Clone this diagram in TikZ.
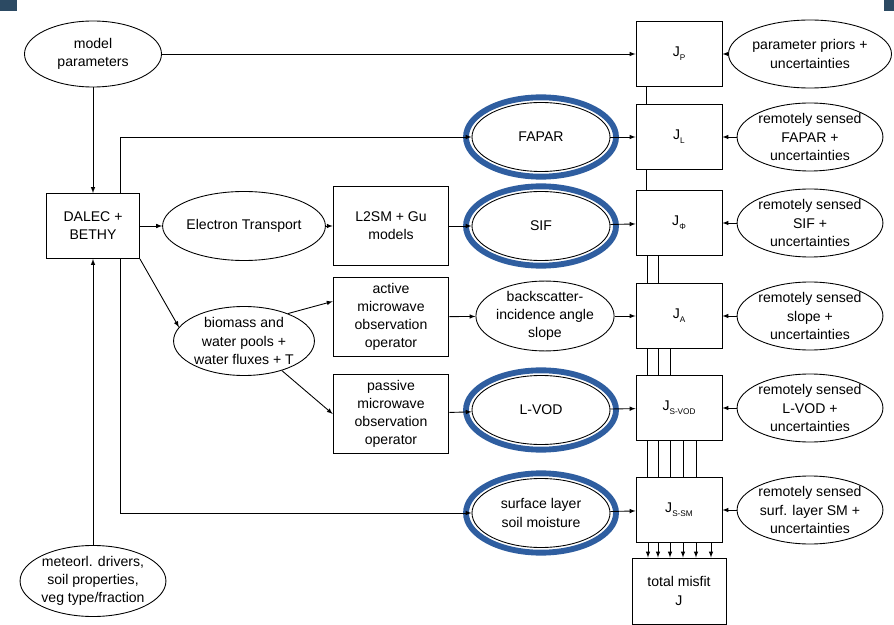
\documentclass[tikz,border=0pt]{standalone}
\usepackage{fontspec}
\setmainfont{Liberation Sans}
\usetikzlibrary{shapes.geometric}
\tikzset{>=latex}
\definecolor{ringblue}{RGB}{47,94,160}
\definecolor{slate}{RGB}{44,74,99}
\newcommand\Jsub[1]{J\raisebox{-0.5ex}{\fontsize{7}{8}\selectfont #1}}

\begin{document}
\begin{tikzpicture}[x=0.03cm,y=-0.03cm,line width=0.75pt,
    every node/.style={font=\fontsize{12}{15.5}\selectfont,align=center,inner sep=0pt},
    oval/.style={draw,ellipse,minimum width=4.11cm,minimum height=2.04cm},
    rsoval/.style={oval,minimum width=4.2cm},
    box/.style={draw,rectangle,minimum width=3.47cm,minimum height=2.36cm},
    jbox/.style={draw,rectangle,minimum width=2.58cm,minimum height=1.95cm},
    ring/.style={draw=ringblue,line width=5pt}]
            \useasboundingbox (0,0) rectangle (894,625);
            \fill[slate] (0,0) rectangle (17,11);
            \fill[slate] (884,0) rectangle (894,11);
            % left column
            \node[oval,minimum height=1.98cm] (model) at (93,54) {model\\parameters};
            \node[draw,minimum width=2.79cm,minimum height=1.95cm] (dalec) at (93,226) {DALEC +\\BETHY};
            \node[oval,minimum height=2.13cm] (met) at (93,581) {meteorl. drivers,\\soil properties,\\veg type/fraction};
            \node[oval,minimum width=4.14cm,minimum height=2.07cm] (etrans) at (244,226) {Electron Transport};
            \node[oval,minimum height=2.07cm] (bio) at (244,341) {biomass and\\water pools +\\water fluxes + T};
            % operators
            \node[box] (l2sm) at (391,226) {L2SM + Gu\\models};
            \node[box] (active) at (391,317) {active\\microwave\\observation\\operator};
            \node[box] (passive) at (391,414) {passive\\microwave\\observation\\operator};
            % observables
            \node[oval,minimum width=4.14cm,minimum height=2.07cm] (fapar) at (541,137) {FAPAR};
            \node[oval,minimum width=4.14cm,minimum height=2.07cm] (sif) at (541,226) {SIF};
            \node[oval,minimum width=4.02cm,minimum height=2.01cm] (backsc) at (545,316) {backscatter-\\incidence angle\\slope};
            \node[oval,minimum width=4.14cm,minimum height=2.07cm] (lvod) at (541,410) {L-VOD};
            \node[oval,minimum width=4.14cm,minimum height=2.07cm] (soil) at (541,513) {surface layer\\soil moisture};
            \foreach \n in {fapar,sif,lvod,soil}
                \draw[ring] (\n) ellipse (2.25cm and 1.19cm);
            % cost terms
            \node[jbox] (JP) at (679,54) {\Jsub{P}};
            \node[jbox] (JL) at (679,137) {\Jsub{L}};
            \node[jbox] (JF) at (679,223) {\Jsub{Φ}};
            \node[jbox] (JA) at (679,316) {\Jsub{A}};
            \node[jbox] (JV) at (679,408) {\Jsub{S-VOD}};
            \node[jbox] (JS) at (679,510) {\Jsub{S-SM}};
            \node[jbox,minimum width=2.82cm,minimum height=1.98cm] (total) at (679,591) {total misfit\\J};
            % data
            \node[rsoval] (priors) at (810,54) {parameter priors +\\uncertainties};
            \node[rsoval] (rsfapar) at (810,137) {remotely sensed\\FAPAR +\\uncertainties};
            \node[rsoval] (rssif) at (810,223) {remotely sensed\\SIF +\\uncertainties};
            \node[rsoval] (rsslope) at (810,316) {remotely sensed\\slope +\\uncertainties};
            \node[rsoval] (rslvod) at (810,408) {remotely sensed\\L-VOD +\\uncertainties};
            \node[rsoval] (rssm) at (810,510) {remotely sensed\\surf. layer SM +\\uncertainties};
            % connectors
            \draw[->] (model) -- (JP);
            \draw[->] (model) -- (dalec);
            \draw[->] (met) -- (dalec);
            \draw[->] (dalec.north -| 120,0) |- (fapar);
            \draw[->] (dalec.south -| 120,0) |- (soil);
            \draw[->] (dalec) -- (etrans);
            \draw[->] (dalec.south east) -- (bio.168);
            \draw[->] (etrans) -- (l2sm);
            \draw[->] (l2sm) -- (sif);
            \draw[->] (bio.32) -- (active.165);
            \draw[->] (bio.-38) -- (passive.west);
            \draw[->] (active) -- (backsc);
            \draw[->] (passive) -- (lvod);
            \draw[->] (fapar) -- (JL);
            \draw[->] (sif) -- (JF);
            \draw[->] (backsc) -- (JA);
            \draw[->] (lvod) -- (JV);
            \draw[->] (soil) -- (JS);
            \foreach \d/\j in {priors/JP,rsfapar/JL,rssif/JF,rsslope/JA,rslvod/JV,rssm/JS}
                \draw[->] (\d) -- (\j);
            % summing lines
            \draw (JP.south -| 646,0) -- (JL.north -| 646,0);
            \draw (JL.south -| 646,0) -- (JF.north -| 646,0);
            \foreach \x in {647,658}
                \draw (JF.south -| \x,0) -- (JA.north -| \x,0);
            \foreach \x in {647,658,670}
                \draw (JA.south -| \x,0) -- (JV.north -| \x,0);
            \foreach \x in {647,658,670,683,696}
                \draw (JV.south -| \x,0) -- (JS.north -| \x,0);
            \foreach \x in {648,658,670,683,696,711}
                \draw[->] (JS.south -| \x,0) -- (total.north -| \x,0);
        \end{tikzpicture}
\end{document}
